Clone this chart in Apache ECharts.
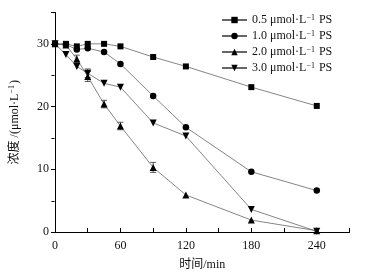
<!DOCTYPE html>
<html>
<head>
<meta charset="utf-8">
<script src="https://cdn.jsdelivr.net/npm/echarts@6/dist/echarts.min.js"></script>
<style>
  html, body { margin: 0; padding: 0; background: #fff; }
  #chart { width: 366px; height: 276px; }
</style>
</head>
<body>
<div id="chart"></div>
<script>
// time points (min)
const times = [0, 10, 20, 30, 45, 60, 90, 120, 180, 240];
const seriesNames = ['0.5', '1.0', '2.0', '3.0'];
const conc05 = [30.0, 30.0, 29.6, 30.0, 30.0, 29.6, 27.9, 26.4, 23.1, 20.1];
const conc10 = [30.0, 29.9, 29.1, 29.3, 28.7, 26.8, 21.7, 16.7, 9.6, 6.6];
const conc20 = [30.0, 29.8, 27.6, 24.8, 20.4, 16.9, 10.3, 5.9, 1.9, 0.2];
const conc30 = [30.0, 28.3, 26.4, 25.3, 23.7, 23.1, 17.4, 15.3, 3.6, 0.1];
// error bar half-widths
const err05 = [0, 0, 0, 0, 0, 0, 0, 0, 0, 0];
const err10 = [0, 0, 0, 0, 0, 0, 0, 0, 0, 0];
const err20 = [0, 0, 0.6, 0.8, 0.6, 0.6, 0.8, 0, 0, 0];
const err30 = [0, 0, 0, 0.7, 0, 0, 0, 0, 0, 0];
const xTickLabels = ['0', '60', '120', '180', '240'];
const yTickLabels = ['0', '10', '20', '30'];

const serif = "'Liberation Serif', 'Noto Sans CJK SC', serif";
const chart = echarts.init(document.getElementById('chart'));

const allConc = [conc05, conc10, conc20, conc30];
const allErr = [err05, err10, err20, err30];
const symbols = ['rect', 'circle', 'triangle', 'triangle'];
const sizes = [6, 6.5, 7, 7];
const rotates = [0, 0, 0, 180];

const lineSeries = allConc.map((vals, i) => ({
  name: seriesNames[i],
  type: 'line',
  xAxisIndex: 0,
  yAxisIndex: 0,
  data: times.map((t, j) => [t, vals[j]]),
  symbol: symbols[i],
  symbolSize: sizes[i],
  symbolRotate: rotates[i],
  showAllSymbol: true,
  itemStyle: { color: '#000' },
  lineStyle: { color: '#666', width: 0.8 },
  z: 3,
  animation: false
}));

const errData = [];
allConc.forEach((vals, i) => {
  times.forEach((t, j) => {
    if (allErr[i][j] > 0) errData.push([t, vals[j] - allErr[i][j], vals[j] + allErr[i][j]]);
  });
});

const errSeries = {
  type: 'custom',
  xAxisIndex: 0,
  yAxisIndex: 0,
  data: errData,
  silent: true,
  animation: false,
  z: 2,
  renderItem: (params, api) => {
    const lo = api.coord([api.value(0), api.value(1)]);
    const hi = api.coord([api.value(0), api.value(2)]);
    const w = 3;
    const style = { stroke: '#333', lineWidth: 0.8 };
    return {
      type: 'group',
      children: [
        { type: 'line', shape: { x1: lo[0], y1: lo[1], x2: hi[0], y2: hi[1] }, style },
        { type: 'line', shape: { x1: lo[0] - w, y1: lo[1], x2: lo[0] + w, y2: lo[1] }, style },
        { type: 'line', shape: { x1: hi[0] - w, y1: hi[1], x2: hi[0] + w, y2: hi[1] }, style }
      ]
    };
  }
};

const option = {
  backgroundColor: '#fff',
  animation: false,
  grid: [
    { left: 51.5, right: 16.5, top: 12.5, bottom: 43 },
    // overlay grid only for the inward minor ticks at 5, 15, 25, 35
    { left: 51.5, right: 16.5, top: 12.5, bottom: 74.5 }
  ],
  legend: {
    orient: 'vertical',
    left: 221,
    top: 14,
    padding: 0,
    itemWidth: 25,
    itemHeight: 8,
    itemGap: 3,
    data: seriesNames,
    formatter: name => name + ' μmol·L{sup|−1} PS',
    textStyle: {
      fontFamily: serif,
      fontSize: 12,
      lineHeight: 12,
      color: '#111',
      rich: {
        sup: { fontSize: 8, lineHeight: 12, fontFamily: serif, verticalAlign: 'top', padding: [0, 1, 5, 0] }
      }
    }
  },
  xAxis: [
    {
      gridIndex: 0,
      type: 'value',
      min: 0,
      max: 270,
      interval: 30,
      name: '时间/min',
      nameLocation: 'middle',
      nameGap: 27,
      nameTextStyle: { fontFamily: serif, fontSize: 12, color: '#111' },
      axisLine: { lineStyle: { color: '#000', width: 1 } },
      axisTick: { inside: true, length: 4, lineStyle: { color: '#000' } },
      axisLabel: {
        fontFamily: serif,
        fontSize: 12,
        color: '#111',
        margin: 8,
        formatter: v => (xTickLabels.indexOf(String(v)) >= 0 ? String(v) : '')
      },
      splitLine: { show: false }
    },
    {
      gridIndex: 1,
      type: 'value',
      min: 0,
      max: 270,
      show: false
    }
  ],
  yAxis: [
    {
      gridIndex: 0,
      type: 'value',
      min: 0,
      max: 35,
      interval: 10,
      name: '浓度 /(μmol·L{sup|−1})',
      nameLocation: 'middle',
      nameGap: 33,
      nameRotate: 90,
      nameTextStyle: {
        fontFamily: serif,
        fontSize: 12,
        color: '#111',
        rich: {
          sup: { fontSize: 8, fontFamily: serif, verticalAlign: 'top', padding: [0, 1, 6, 0] }
        }
      },
      axisLine: { show: true, lineStyle: { color: '#000', width: 1 } },
      axisTick: { show: true, inside: false, length: 4, lineStyle: { color: '#000' } },
      axisLabel: {
        fontFamily: serif,
        fontSize: 12,
        color: '#111',
        margin: 6,
        formatter: v => (yTickLabels.indexOf(String(v)) >= 0 ? String(v) : '')
      },
      splitLine: { show: false }
    },
    {
      gridIndex: 1,
      type: 'value',
      min: 5,
      max: 35,
      interval: 10,
      axisLine: { show: false },
      axisTick: { show: true, inside: true, length: 3, lineStyle: { color: '#000' } },
      axisLabel: { show: false },
      splitLine: { show: false }
    }
  ],
  series: [errSeries].concat(lineSeries)
};

chart.setOption(option);
</script>
</body>
</html>
